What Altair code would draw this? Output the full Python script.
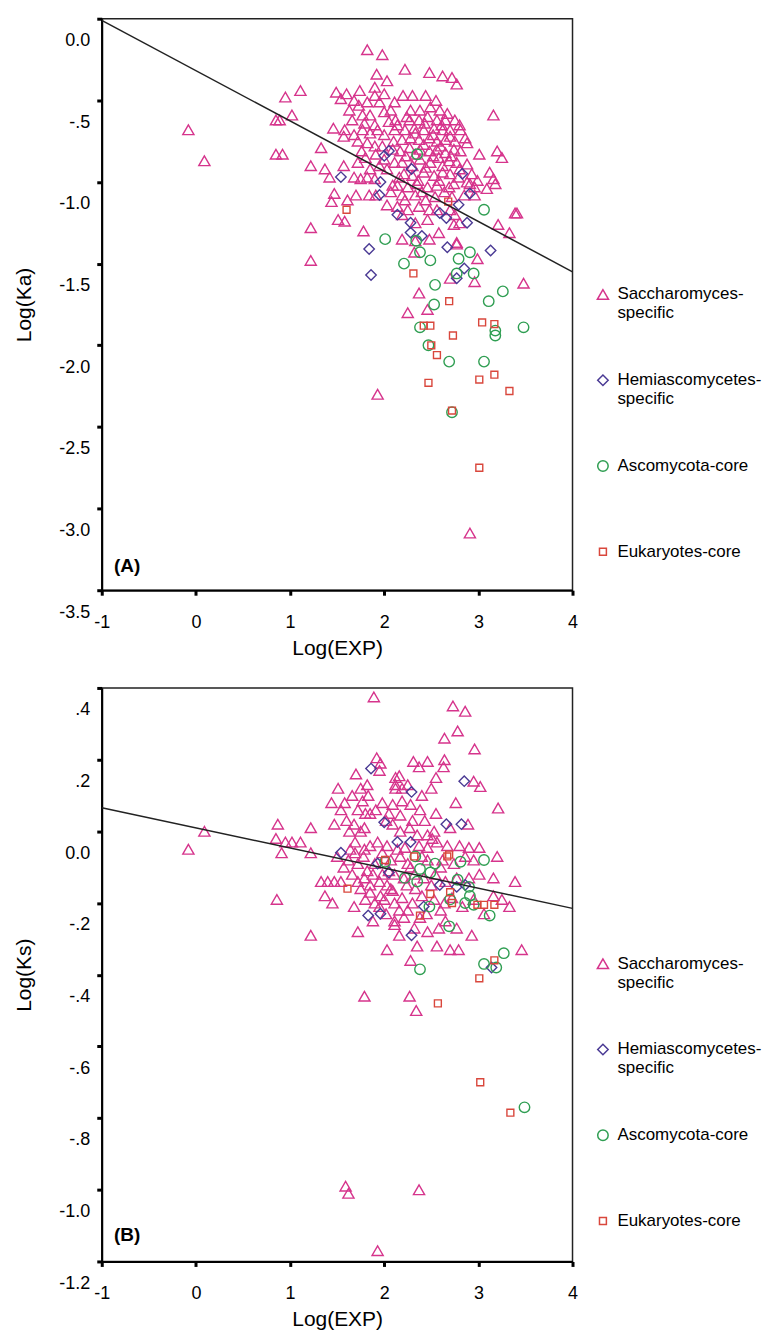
import altair as alt
import pandas as pd

GROUPS = ["Saccharomyces-specific", "Hemiascomycetes-specific", "Ascomycota-core", "Eukaryotes-core"]
COLORS = ["#d6348c", "#4a3a94", "#2f9e52", "#d9473c"]
SHAPES = ["triangle-up", "diamond", "circle", "square"]
SIZES = [125, 110, 110, 48]

# ---------------- Panel A : Log(Ka) vs Log(EXP) ----------------
A_SACC = [
    (-0.08, -0.68), (0.09, -0.87), (0.85, -0.62), (0.89, -0.62), (0.95, -0.48), (1.02, -0.59), (0.85, -0.83), (0.92, -0.83), (1.11, -0.44),
    (1.82, -0.19), (1.98, -0.22), (2.22, -0.31), (2.48, -0.33), (2.62, -0.35), (2.72, -0.36), (2.77, -0.40), (1.92, -0.34), (2.03, -0.38),
    (1.90, -0.42), (1.49, -0.45), (1.54, -0.49), (1.74, -0.44), (2.30, -0.47), (3.16, -0.59),
    (1.33, -0.79), (1.22, -0.90), (1.37, -0.92), (1.42, -0.97), (1.57, -0.90), (1.47, -1.07), (1.44, -1.12), (1.22, -1.28), (1.22, -1.48),
    (1.51, -1.23), (1.58, -1.24), (1.78, -1.30),
    (2.19, -1.35), (2.58, -1.31), (2.77, -1.37), (2.99, -1.47), (3.21, -1.26), (3.33, -1.31), (3.39, -1.19), (3.41, -1.19), (3.48, -1.62),
    (2.70, -1.59), (2.96, -1.61), (2.37, -1.68), (2.25, -1.80), (2.46, -1.78), (1.93, -2.30), (2.91, -3.15),
    (3.01, -0.83), (3.20, -0.81), (3.25, -0.85), (3.12, -0.94), (3.18, -1.01), (3.09, -1.04), (2.91, -1.01),
    (1.63, -0.56), (1.46, -0.67), (1.58, -0.68), (1.57, -0.72), (1.68, -0.71), (1.66, -0.62), (1.73, -0.53), (1.82, -0.51), (1.95, -0.51),
    (1.85, -0.59), (1.77, -0.59), (2.00, -0.57), (2.07, -0.56), (1.90, -0.65), (1.79, -0.64), (1.72, -0.75), (1.76, -0.81), (1.80, -0.85),
    (1.72, -0.88), (1.68, -0.97), (1.75, -0.98), (1.82, -0.97), (1.90, -0.98), (1.85, -0.92), (1.95, -0.90), (2.00, -0.86), (2.03, -0.92),
    (1.70, -1.08), (1.84, -1.08), (1.61, -1.11), (2.03, -1.14), (1.91, -1.08), (2.09, -1.02), (2.11, -0.68), (2.00, -0.71), (1.93, -0.68),
    (1.85, -0.70), (1.77, -0.68), (1.82, -0.76), (1.90, -0.78), (1.98, -0.78), (2.09, -0.80), (2.11, -0.88), (1.91, -0.83), (2.11, -0.51),
    (2.12, -0.62), (1.90, -0.47), (2.00, -0.46),
    (2.28, -0.56), (2.38, -0.56), (2.49, -0.54), (2.59, -0.56), (2.67, -0.58),
    (2.27, -0.62), (2.37, -0.62), (2.46, -0.60), (2.56, -0.62), (2.65, -0.62), (2.75, -0.62), (2.80, -0.65),
    (2.14, -0.65), (2.22, -0.68), (2.32, -0.67), (2.42, -0.68), (2.53, -0.67), (2.62, -0.68), (2.70, -0.68), (2.81, -0.68),
    (2.19, -0.74), (2.28, -0.73), (2.37, -0.74), (2.48, -0.73), (2.56, -0.75), (2.65, -0.74), (2.75, -0.75), (2.86, -0.73), (2.88, -0.76),
    (2.17, -0.81), (2.27, -0.79), (2.38, -0.80), (2.48, -0.81), (2.56, -0.80), (2.65, -0.82), (2.74, -0.80), (2.81, -0.81),
    (2.19, -0.88), (2.38, -0.86), (2.49, -0.88), (2.58, -0.85), (2.69, -0.87), (2.77, -0.88), (2.88, -0.89), (3.16, -0.98),
    (2.21, -0.95), (2.30, -0.96), (2.42, -0.94), (2.53, -0.96), (2.62, -0.94), (2.70, -0.95), (2.93, -0.95), (2.99, -0.99),
    (2.14, -1.02), (2.25, -1.03), (2.35, -1.01), (2.46, -1.03), (2.56, -1.02), (2.69, -1.03), (2.74, -1.01), (2.88, -1.00), (2.96, -1.03),
    (2.22, -1.11), (2.33, -1.08), (2.44, -1.11), (2.54, -1.09), (2.72, -1.09), (2.85, -1.08), (2.96, -1.08),
    (2.14, -1.15), (2.25, -1.17), (2.37, -1.15), (2.48, -1.17), (2.56, -1.17), (2.70, -1.17), (2.75, -1.20), (2.80, -1.25),
    (2.33, -1.36), (2.48, -1.35), (2.77, -1.38), (2.19, -1.20), (2.33, -1.25), (2.46, -1.23), (2.74, -1.26), (2.32, -1.43),
    (2.05, -0.63), (2.24, -0.60), (2.43, -0.64), (2.61, -0.65), (2.33, -0.70), (2.52, -0.71), (2.70, -0.72), (2.10, -0.75),
    (2.42, -0.77), (2.60, -0.78), (2.23, -0.84), (2.33, -0.83), (2.52, -0.84), (2.71, -0.84), (2.30, -0.90), (2.44, -0.91),
    (2.62, -0.90), (2.80, -0.92), (2.16, -0.97), (2.36, -0.99), (2.58, -0.99), (2.79, -0.97), (2.07, -1.06), (2.40, -1.06),
    (2.64, -1.06), (2.19, -1.08), (1.60, -0.46), (1.68, -0.50), (2.20, -0.47), (2.44, -0.47), (2.55, -0.50),
]
A_HEMI = [
    (2.00, -0.84), (2.05, -0.81), (2.29, -0.92), (1.54, -0.97), (1.96, -1.00), (1.95, -1.08), (2.83, -0.95), (2.91, -1.07),
    (2.79, -1.14), (2.59, -1.19), (2.66, -1.22), (2.88, -1.25), (2.14, -1.20), (2.28, -1.25), (2.28, -1.31), (2.40, -1.33),
    (2.67, -1.40), (1.84, -1.41), (1.86, -1.57), (2.77, -1.59), (2.85, -1.53), (3.13, -1.42),
]
A_ASCO = [
    (2.35, -0.83), (3.06, -1.17), (2.01, -1.35), (2.34, -1.36), (2.38, -1.43), (2.49, -1.48), (2.21, -1.50), (2.79, -1.47),
    (2.91, -1.43), (2.95, -1.56), (2.77, -1.56), (2.54, -1.63), (2.53, -1.75), (3.11, -1.73), (3.26, -1.67), (3.48, -1.89),
    (3.18, -1.91), (2.38, -1.89), (2.47, -2.00), (2.69, -2.10), (3.06, -2.10), (3.18, -1.94), (2.72, -2.41),
]
A_EUK = [
    (1.60, -1.17), (2.68, -1.12), (2.31, -1.56), (2.69, -1.73), (3.04, -1.86), (3.17, -1.87), (2.42, -1.88), (2.49, -1.88),
    (2.73, -1.94), (2.50, -2.00), (2.56, -2.06), (2.47, -2.23), (3.01, -2.21), (3.17, -2.18), (3.33, -2.28), (2.72, -2.40),
    (3.01, -2.75),
]
A_FIT_X = [-1.0, 4.0]
A_FIT_Y = [-0.01, -1.55]
A_Y_TICKS = [-3.5, -3.0, -2.5, -2.0, -1.5, -1.0, -0.5, 0.0]

# ---------------- Panel B : Log(Ks) vs Log(EXP) ----------------
B_SACC = [
    (-0.08, -0.05), (0.09, 0.00), (0.87, 0.02), (0.85, -0.02), (0.95, -0.03), (1.02, -0.03), (0.91, -0.06), (0.86, -0.19), (1.11, -0.03),
    (1.89, 0.375), (1.92, 0.205), (1.96, 0.19), (1.95, 0.17), (1.51, 0.12), (1.75, 0.12), (1.58, 0.08), (1.77, 0.085), (1.54, 0.06),
    (1.72, 0.06), (1.80, 0.05), (1.85, 0.05), (1.91, 0.06), (2.12, 0.12), (2.12, 0.15), (1.22, 0.01), (1.47, 0.02), (1.68, 0.02),
    (1.75, 0.00), (1.22, -0.06), (1.22, -0.29), (1.57, -0.10), (1.33, -0.14), (1.40, -0.14), (1.47, -0.14), (1.54, -0.14), (1.37, -0.18),
    (1.45, -0.20), (1.68, -0.21), (1.72, -0.28), (1.88, -0.25), (2.03, -0.33), (1.63, 0.00), (1.69, -0.03), (1.79, 0.01), (1.64, -0.05),
    (1.69, -0.06), (1.79, -0.05), (1.85, -0.04), (1.93, -0.03), (1.72, -0.09), (1.82, -0.11), (1.90, -0.09), (1.72, -0.14), (1.79, -0.13),
    (1.85, -0.15), (1.95, -0.14), (2.03, -0.15), (1.75, -0.16), (1.85, -0.17), (1.96, -0.18), (2.07, -0.16), (2.00, -0.19), (2.11, -0.20),
    (1.95, -0.21), (2.11, -0.26),
    (2.73, 0.35), (2.86, 0.335), (2.64, 0.26), (2.78, 0.28), (2.96, 0.23), (2.31, 0.195), (2.37, 0.18), (2.46, 0.195), (2.64, 0.20),
    (2.63, 0.18), (2.16, 0.155), (2.12, 0.13), (2.19, 0.12), (2.95, 0.14), (3.02, 0.125), (2.09, 0.075), (2.19, 0.085), (2.28, 0.075),
    (2.76, 0.08), (3.21, 0.065), (2.17, 0.045), (2.30, 0.03), (2.43, 0.03), (2.53, 0.00), (2.46, -0.01), (2.51, -0.02), (2.89, 0.02),
    (3.01, -0.045), (3.20, -0.07), (3.39, -0.14), (2.09, 0.02), (2.17, 0.00), (2.27, 0.01), (2.35, -0.01),
    (2.03, -0.04), (2.14, -0.05), (2.22, -0.045), (2.37, -0.04), (2.46, -0.045), (2.56, -0.03), (2.67, -0.04), (2.80, -0.04), (2.90, -0.045),
    (2.07, -0.08), (2.17, -0.07), (2.25, -0.09), (2.46, -0.08), (2.62, -0.08), (2.74, -0.09), (2.86, -0.07), (2.95, -0.08), (3.01, -0.12),
    (3.16, -0.13), (2.11, -0.12), (2.21, -0.13), (2.32, -0.12), (2.42, -0.13), (2.54, -0.12), (2.65, -0.14), (2.77, -0.13), (2.90, -0.13),
    (2.09, -0.165), (2.19, -0.185), (2.30, -0.20), (2.40, -0.18), (2.53, -0.19), (2.64, -0.20), (2.72, -0.185), (2.83, -0.21), (2.95, -0.19),
    (3.16, -0.18), (3.25, -0.19), (3.33, -0.21), (2.11, -0.25), (2.21, -0.24), (2.32, -0.27), (2.38, -0.24), (2.46, -0.28), (2.65, -0.25),
    (2.77, -0.27), (2.93, -0.29), (3.06, -0.23), (2.16, -0.29), (2.35, -0.32), (2.56, -0.32), (2.70, -0.33), (2.79, -0.33), (3.46, -0.33),
    (2.28, -0.36), (1.98, -0.06), (2.05, -0.11), (2.28, -0.10), (2.40, -0.07), (2.33, -0.16), (2.50, -0.15), (2.60, -0.10), (2.25, -0.22),
    (2.02, 0.03), (2.38, 0.06), (2.55, 0.05), (2.70, 0.01), (2.60, -0.22),
    (1.60, 0.03), (1.66, 0.10), (1.83, 0.10), (1.98, 0.08), (2.05, 0.05), (1.62, -0.08), (1.78, -0.07), (1.88, -0.12), (1.98, -0.12),
    (1.66, -0.12), (1.80, -0.19), (1.90, -0.20), (2.02, -0.23), (2.16, -0.22), (2.24, -0.15), (2.45, -0.23), (2.58, -0.27), (1.50, -0.07),
    (1.44, 0.08), (1.70, 0.16), (1.82, 0.13), (2.25, 0.13), (2.40, 0.10), (2.50, 0.12), (2.55, 0.15),
    (1.79, -0.46), (2.27, -0.46), (2.34, -0.50), (1.59, -0.99), (1.62, -1.01), (2.37, -1.00), (1.93, -1.17),
]
B_HEMI = [
    (1.86, 0.175), (2.00, 0.025), (1.54, -0.06), (1.93, -0.09), (2.05, -0.115), (1.83, -0.235), (1.96, -0.23), (2.85, 0.14),
    (2.29, 0.11), (2.66, 0.02), (2.82, 0.02), (2.14, -0.03), (2.28, -0.03), (2.59, -0.15), (2.77, -0.155), (2.86, -0.15),
    (2.42, -0.21), (2.29, -0.29), (3.14, -0.38),
]
B_ASCO = [
    (3.06, -0.08), (2.81, -0.085), (2.54, -0.09), (2.33, -0.07), (2.38, -0.105), (2.49, -0.115), (2.22, -0.13), (2.35, -0.14),
    (2.78, -0.135), (2.90, -0.155), (2.91, -0.18), (2.70, -0.19), (2.86, -0.20), (2.95, -0.205), (2.48, -0.21), (3.12, -0.235),
    (2.69, -0.265), (3.27, -0.34), (2.01, -0.085), (2.38, -0.385), (3.06, -0.37), (3.19, -0.38), (3.49, -0.77),
]
B_EUK = [
    (2.67, -0.07), (2.49, -0.175), (2.70, -0.17), (2.99, -0.205), (3.06, -0.205), (3.17, -0.205), (2.32, -0.07), (2.69, -0.065),
    (2.72, -0.20), (2.38, -0.235), (3.17, -0.36), (3.01, -0.41), (1.61, -0.16), (2.01, -0.08), (2.57, -0.48), (3.02, -0.70),
    (3.34, -0.785),
]
B_FIT_X = [-1.0, 4.0]
B_FIT_Y = [0.066, -0.215]
B_Y_TICKS = [-1.2, -1.0, -0.8, -0.6, -0.4, -0.2, 0.0, 0.2, 0.4]

X_TICKS = [-1, 0, 1, 2, 3, 4]
PANEL_LABELS = ["(A)", "(B)"]
PANEL_LABEL_X = [-0.87, -0.87]
PANEL_LABEL_Y = [-3.35, -1.125]

FONT = "Liberation Sans"

Y_LABEL_EXPR = ("datum.value == 0 ? '0.0' : (datum.value < 0 ? '-' : '') + "
                "(abs(datum.value) < 1 ? replace(format(abs(datum.value), '.1f'), '0.', '.') "
                ": format(abs(datum.value), '.1f'))")
X_LABEL_EXPR = "(datum.value < 0 ? '-' : '') + format(abs(datum.value), 'd')"
LEGEND_LABEL_EXPR = ("datum.label == 'Saccharomyces-specific' ? ['Saccharomyces-', 'specific'] : "
                     "datum.label == 'Hemiascomycetes-specific' ? ['Hemiascomycetes-', 'specific'] : datum.label")


def points_frame(series):
    rows = []
    for g, pts in zip(GROUPS, series):
        for x, y in pts:
            rows.append({"x": x, "y": y, "group": g})
    return pd.DataFrame(rows)


def panel(series, fit_x, fit_y, y_dom, y_ticks, y_title, label_idx, height):
    df = points_frame(series)
    xs = alt.Scale(domain=[-1, 4], nice=False, zero=False)
    ys = alt.Scale(domain=y_dom, nice=False, zero=False)
    x_axis = alt.Axis(values=X_TICKS, labelExpr=X_LABEL_EXPR, title="Log(EXP)", labelFlush=False)
    y_axis = alt.Axis(values=y_ticks, labelExpr=Y_LABEL_EXPR, labelOffset=22, title=y_title)
    legend = alt.Legend(
        title=None, orient="none", legendX=494, legendY=268, padding=0,
        labelFont=FONT, labelFontSize=17, labelColor="black", labelLimit=220,
        labelExpr=LEGEND_LABEL_EXPR, symbolSize=80, symbolStrokeWidth=1.5,
        rowPadding=49, labelOffset=6, gridAlign="all",
    )
    pts = alt.Chart(df).mark_point(filled=False, strokeWidth=1.4, opacity=1).encode(
        x=alt.X("x:Q", scale=xs, axis=x_axis),
        y=alt.Y("y:Q", scale=ys, axis=y_axis),
        color=alt.Color("group:N", scale=alt.Scale(domain=GROUPS, range=COLORS), legend=legend, sort=GROUPS),
        shape=alt.Shape("group:N", scale=alt.Scale(domain=GROUPS, range=SHAPES), legend=legend, sort=GROUPS),
        size=alt.Size("group:N", scale=alt.Scale(type="ordinal", domain=GROUPS, range=SIZES), legend=None),
    )
    fit = alt.Chart(pd.DataFrame({"x": fit_x, "y": fit_y})).mark_line(color="#222222", strokeWidth=1.5, clip=True).encode(
        x=alt.X("x:Q", scale=xs), y=alt.Y("y:Q", scale=ys)
    )
    lab = alt.Chart(pd.DataFrame({"x": [PANEL_LABEL_X[label_idx]], "y": [PANEL_LABEL_Y[label_idx]],
                                  "t": [PANEL_LABELS[label_idx]]})).mark_text(
        align="left", baseline="middle", font=FONT, fontSize=19, fontWeight="bold", color="black"
    ).encode(x=alt.X("x:Q", scale=xs), y=alt.Y("y:Q", scale=ys), text="t:N")
    return alt.layer(pts, fit, lab).properties(width=472, height=height)


pa = panel([A_SACC, A_HEMI, A_ASCO, A_EUK], A_FIT_X, A_FIT_Y, [-3.5, 0.0], A_Y_TICKS, "Log(Ka)", 0, 573)
pb = panel([B_SACC, B_HEMI, B_ASCO, B_EUK], B_FIT_X, B_FIT_Y, [-1.2, 0.4], B_Y_TICKS, "Log(Ks)", 1, 575)

chart = (
    alt.vconcat(pa, pb, spacing=26)
    .resolve_scale(color="independent", shape="independent", size="independent")
    .properties(padding={"left": 5, "top": 6, "right": 5, "bottom": 0})
    .configure_view(stroke="#222222", strokeWidth=1.5)
    .configure_axis(
        domainColor="black", domainWidth=2, tickColor="black", tickSize=5, tickWidth=3,
        labelFont=FONT, labelFontSize=18, labelColor="black",
        titleFont=FONT, titleFontSize=21, titleFontWeight="normal", titleColor="black", grid=False,
    )
    .configure_axisX(labelPadding=18, titlePadding=6)
    .configure_axisY(labelPadding=7, titlePadding=24)
)

chart.save("out.html", embed_options={"renderer": "svg", "actions": False})
